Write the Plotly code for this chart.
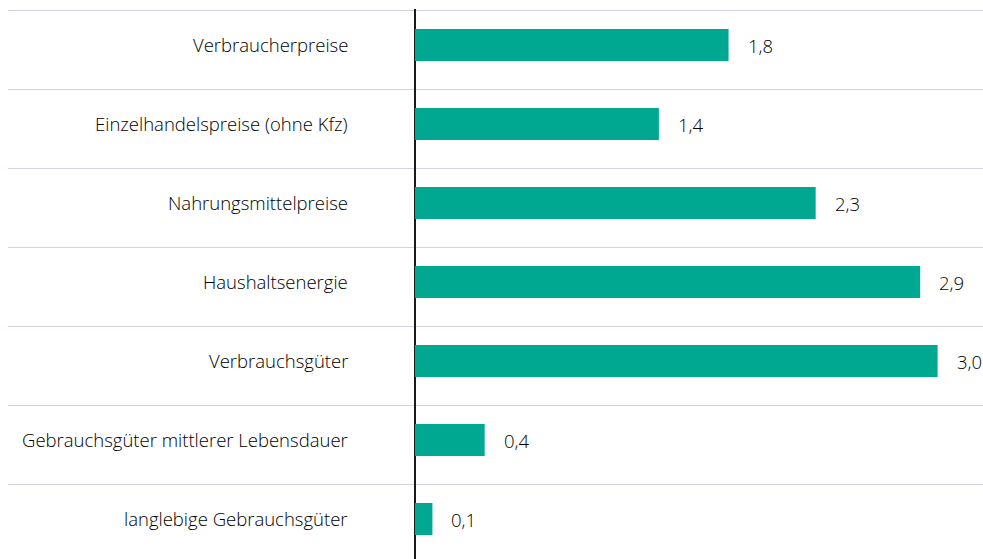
import plotly.graph_objects as go

categories = [
    "Verbraucherpreise",
    "Einzelhandelspreise (ohne Kfz)",
    "Nahrungsmittelpreise",
    "Haushaltsenergie",
    "Verbrauchsgüter",
    "Gebrauchsgüter mittlerer Lebensdauer",
    "langlebige Gebrauchsgüter",
]
values = [1.8, 1.4, 2.3, 2.9, 3.0, 0.4, 0.1]

positions = list(range(len(categories)))
bar_color = "#00a891"
text_color = "#000000"
font_family = "Open Sans, Noto Sans, sans-serif"
font_size = 18.5

row_px = 79.0
bar_w = 32 / row_px
bar_lift = 5 / row_px

fig = go.Figure()
fig.add_trace(go.Bar(
    x=values,
    y=positions,
    orientation="h",
    marker=dict(color=bar_color, line=dict(width=0)),
    width=bar_w,
    offset=-bar_w / 2 - bar_lift,
    hoverinfo="skip",
))

annotations = []
for p, c, v in zip(positions, categories, values):
    annotations.append(dict(
        x=-0.374, y=p, xref="x", yref="y", text=c, showarrow=False,
        xanchor="right", yanchor="middle", yshift=6,
        font=dict(size=font_size, color=text_color, family=font_family, weight=300),
    ))
    annotations.append(dict(
        x=v, y=p, xref="x", yref="y", text=f"{v:.1f}".replace(".", ","),
        showarrow=False, xanchor="left", yanchor="middle", xshift=17, yshift=5,
        font=dict(size=font_size, color=text_color, family=font_family, weight=300),
    ))

W, H = 983, 559
top_margin = 9
left_margin = 8
plot_h = H - top_margin
rows_visible = plot_h / row_px
unit_px = 174.2
zero_px = 415 - left_margin
plot_w = W - left_margin
top_val = -0.5 - 1.5 / row_px

fig.update_layout(
    width=W, height=H,
    margin=dict(l=left_margin, r=0, t=top_margin, b=0),
    paper_bgcolor="white", plot_bgcolor="white",
    showlegend=False,
    annotations=annotations,
    xaxis=dict(
        range=[-zero_px / unit_px, (plot_w - zero_px) / unit_px],
        showgrid=False, showticklabels=False, ticks="",
        zeroline=True, zerolinecolor="#1a1a1a", zerolinewidth=1.5,
        fixedrange=True,
    ),
    yaxis=dict(
        range=[top_val + rows_visible, top_val],
        tickvals=[i - 0.5 for i in range(len(categories) + 1)],
        showticklabels=False, ticks="",
        showgrid=True, gridcolor="#d2d3e2", gridwidth=1,
        zeroline=False, fixedrange=True,
    ),
    font=dict(family=font_family, color=text_color),
)

fig.write_html(
    "out.html",
    config={"displayModeBar": False},
    post_script=(
        "document.body.style.margin='0';"
        "document.body.style.overflow='hidden';"
        "document.documentElement.style.overflow='hidden';"
    ),
)
